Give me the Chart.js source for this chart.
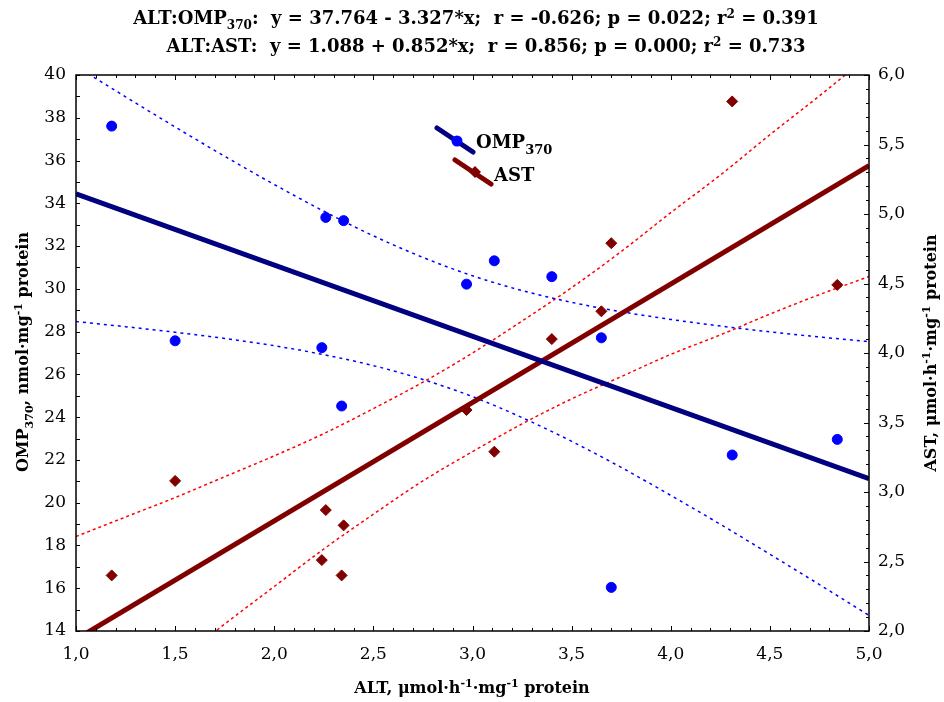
<!DOCTYPE html>
<html>
<head>
<meta charset="utf-8">
<script src="https://cdn.jsdelivr.net/npm/chart.js@4"></script>
<style>
  html, body { margin: 0; padding: 0; background: #fff; }
  #wrap { width: 944px; height: 702px; }
</style>
</head>
<body>
<div id="wrap"><canvas id="chart" width="944" height="702"></canvas></div>
<script>
// one entry per sample: ALT (x), OMP370 (left axis), AST (right axis)
const altValues = [1.18, 1.50, 2.24, 2.26, 2.34, 2.35, 2.97, 3.11, 3.40, 3.65, 3.70, 4.31, 4.84];
const ompValues = [37.61, 27.57, 27.25, 33.34, 24.52, 33.19, 30.22, 31.31, 30.57, 27.71, 16.04, 22.23, 22.96];
const astValues = [2.40, 3.08, 2.51, 2.87, 2.40, 2.76, 3.59, 3.29, 4.10, 4.30, 4.79, 5.81, 4.49];

// regression coefficients [intercept, slope]
const ompFit = [37.764, -3.327];
const astFit = [1.088, 0.852];

// 95% confidence bands
const bandX    = [1.0, 1.25, 1.5, 1.75, 2.0, 2.25, 2.5, 2.75, 3.0, 3.25, 3.5, 3.75, 4.0, 4.25, 4.5, 4.75, 5.0];
const ompUpper = [40.41, 38.98, 37.57, 36.20, 34.88, 33.63, 32.48, 31.47, 30.61, 29.92, 29.37, 28.93, 28.57, 28.26, 27.99, 27.75, 27.53];
const ompLower = [28.47, 28.23, 27.97, 27.68, 27.34, 26.92, 26.41, 25.76, 24.96, 23.98, 22.87, 21.65, 20.34, 18.99, 17.59, 16.17, 14.73];
const astUpper = [2.68, 2.82, 2.96, 3.11, 3.26, 3.42, 3.60, 3.79, 4.00, 4.23, 4.47, 4.73, 5.01, 5.28, 5.57, 5.85, 6.14];
const astLower = [1.20, 1.49, 1.77, 2.05, 2.32, 2.59, 2.84, 3.08, 3.29, 3.49, 3.67, 3.83, 3.99, 4.13, 4.28, 4.42, 4.55];

// tick labels
const xTicks   = [1.0, 1.5, 2.0, 2.5, 3.0, 3.5, 4.0, 4.5, 5.0];
const ompTicks = [14, 16, 18, 20, 22, 24, 26, 28, 30, 32, 34, 36, 38, 40];
const astTicks = [2.0, 2.5, 3.0, 3.5, 4.0, 4.5, 5.0, 5.5, 6.0];

const SERIF = '"DejaVu Serif", Georgia, serif';

function pairs(xs, ys) {
    return xs.map((x, i) => ({ x: x, y: ys[i] }));
}
function fitLine(c) {
    return [{ x: 1, y: c[0] + c[1] * 1 }, { x: 5, y: c[0] + c[1] * 5 }];
}
function comma(v) {
    return Number(v).toFixed(1).replace(".", ",");
}

// text with sub/superscript pieces, centred on x
function drawRich(ctx, parts, x, y, size) {
    const small = Math.round(size * 0.66);
    let w = 0;
    parts.forEach(p => {
        ctx.font = "bold " + (p[1] ? small : size) + "px " + SERIF;
        w += ctx.measureText(p[0]).width;
    });
    let cx = x - w / 2;
    parts.forEach(p => {
        ctx.font = "bold " + (p[1] ? small : size) + "px " + SERIF;
        let dy = 0;
        if (p[1] === "sub") dy = size * 0.3;
        if (p[1] === "sup") dy = -size * 0.36;
        ctx.fillText(p[0], cx, y + dy);
        cx += ctx.measureText(p[0]).width;
    });
}

function legendLine(ctx, x1, y1, x2, y2, color) {
    ctx.strokeStyle = color;
    ctx.lineWidth = 5;
    ctx.lineCap = "round";
    ctx.beginPath();
    ctx.moveTo(x1, y1);
    ctx.lineTo(x2, y2);
    ctx.stroke();
}

const decorations = {
    id: "decorations",
    afterDatasetsDraw(chart) {
        const ctx = chart.ctx;
        const a = chart.chartArea;
        const sx = chart.scales.x, sy = chart.scales.y, sy2 = chart.scales.y2;
        ctx.save();

        // frame
        ctx.strokeStyle = "#000";
        ctx.lineWidth = 1.5;
        ctx.strokeRect(a.left, a.top, a.right - a.left, a.bottom - a.top);

        // inward tick marks
        ctx.lineWidth = 1;
        ctx.beginPath();
        for (let i = 10; i <= 50; i++) {
            const px = Math.round(sx.getPixelForValue(i / 10)) + 0.5;
            const len = i % 5 === 0 ? 5 : 3;
            ctx.moveTo(px, a.bottom); ctx.lineTo(px, a.bottom - len);
            ctx.moveTo(px, a.top); ctx.lineTo(px, a.top + len);
        }
        for (let v = 14; v <= 40; v++) {
            const py = Math.round(sy.getPixelForValue(v)) + 0.5;
            ctx.moveTo(a.left, py); ctx.lineTo(a.left + 4, py);
        }
        for (let i = 20; i <= 60; i++) {
            const py = Math.round(sy2.getPixelForValue(i / 10)) + 0.5;
            const len = i % 5 === 0 ? 5 : 3;
            ctx.moveTo(a.right, py); ctx.lineTo(a.right - len, py);
        }
        ctx.stroke();

        // legend
        legendLine(ctx, 437, 128, 473, 152, "#000080");
        ctx.fillStyle = "#0000ff";
        ctx.beginPath();
        ctx.arc(457, 141, 5.5, 0, Math.PI * 2);
        ctx.fill();
        legendLine(ctx, 455, 160, 491, 184, "#800000");
        ctx.fillStyle = "#800000";
        ctx.beginPath();
        ctx.moveTo(475, 166); ctx.lineTo(481, 172); ctx.lineTo(475, 178); ctx.lineTo(469, 172);
        ctx.closePath();
        ctx.fill();

        ctx.fillStyle = "#000";
        ctx.textAlign = "left";
        ctx.textBaseline = "alphabetic";
        ctx.font = "bold 18px " + SERIF;
        const ompW = ctx.measureText("OMP").width;
        ctx.fillText("OMP", 476, 148);
        ctx.fillText("AST", 494, 181);
        ctx.font = "bold 13px " + SERIF;
        ctx.fillText("370", 476 + ompW, 154);

        // heading
        drawRich(ctx, [["ALT:OMP", ""], ["370", "sub"], [":  y = 37.764 - 3.327*x;  r = -0.626; p = 0.022; r", ""], ["2", "sup"], [" = 0.391", ""]], 476, 24, 18);
        drawRich(ctx, [["ALT:AST:  y = 1.088 + 0.852*x;  r = 0.856; p = 0.000; r", ""], ["2", "sup"], [" = 0.733", ""]], 486, 52, 18);

        // axis titles
        drawRich(ctx, [["ALT, \u03bcmol\u00b7h", ""], ["-1", "sup"], ["\u00b7mg", ""], ["-1", "sup"], [" protein", ""]], 472, 693, 16);

        ctx.save();
        ctx.translate(28, 352);
        ctx.rotate(-Math.PI / 2);
        drawRich(ctx, [["OMP", ""], ["370", "sub"], [", nmol\u00b7mg", ""], ["-1", "sup"], [" protein", ""]], 0, 0, 16);
        ctx.restore();

        ctx.save();
        ctx.translate(936, 353);
        ctx.rotate(-Math.PI / 2);
        drawRich(ctx, [["AST, \u03bcmol\u00b7h", ""], ["-1", "sup"], ["\u00b7mg", ""], ["-1", "sup"], [" protein", ""]], 0, 0, 16);
        ctx.restore();

        ctx.restore();
    }
};

function bandSet(xs, ys, color, axis, dash) {
    return {
        data: pairs(xs, ys),
        yAxisID: axis,
        showLine: true,
        borderColor: color,
        borderWidth: 1.5,
        borderDash: dash,
        pointRadius: 0,
        cubicInterpolationMode: "monotone",
        clip: 0
    };
}

const ctx = document.getElementById("chart").getContext("2d");
new Chart(ctx, {
    type: "scatter",
    data: {
        datasets: [
            {
                label: "OMP370",
                data: pairs(altValues, ompValues),
                yAxisID: "y",
                pointStyle: "circle",
                pointRadius: 5,
                borderWidth: 1,
                backgroundColor: "#0000ff",
                borderColor: "#0000ff"
            },
            {
                label: "AST",
                data: pairs(altValues, astValues),
                yAxisID: "y2",
                pointStyle: "rectRot",
                pointRadius: 5.5,
                borderWidth: 1,
                backgroundColor: "#800000",
                borderColor: "#800000"
            },
            {
                data: fitLine(ompFit), yAxisID: "y", showLine: true,
                borderColor: "#000080", borderWidth: 5, pointRadius: 0, clip: 0
            },
            {
                data: fitLine(astFit), yAxisID: "y2", showLine: true,
                borderColor: "#800000", borderWidth: 5, pointRadius: 0, clip: 0
            },
            bandSet(bandX, ompUpper, "#0000ff", "y", [3, 4]),
            bandSet(bandX, ompLower, "#0000ff", "y", [3, 4]),
            bandSet(bandX, astUpper, "#ff0000", "y2", [3, 3]),
            bandSet(bandX, astLower, "#ff0000", "y2", [3, 3])
        ]
    },
    options: {
        responsive: false,
        animation: false,
        events: [],
        layout: { padding: { top: 75, left: 0, right: 0, bottom: 0 } },
        plugins: {
            legend: { display: false },
            title: { display: false },
            tooltip: { enabled: false }
        },
        scales: {
            x: {
                type: "linear",
                min: 1, max: 5,
                afterBuildTicks: s => { s.ticks = xTicks.map(v => ({ value: v })); },
                afterFit: s => { s.height = 71; },
                grid: { display: false, drawTicks: false },
                border: { display: false },
                ticks: {
                    padding: 13,
                    color: "#000",
                    font: { family: SERIF, size: 17 },
                    callback: v => comma(v)
                }
            },
            y: {
                type: "linear",
                position: "left",
                min: 14, max: 40,
                afterBuildTicks: s => { s.ticks = ompTicks.map(v => ({ value: v })); },
                afterFit: s => { s.width = 76; },
                grid: { display: false, drawTicks: false },
                border: { display: false },
                ticks: {
                    padding: 10,
                    color: "#000",
                    font: { family: SERIF, size: 17 },
                    callback: v => String(v)
                }
            },
            y2: {
                type: "linear",
                position: "right",
                min: 2, max: 6,
                afterBuildTicks: s => { s.ticks = astTicks.map(v => ({ value: v })); },
                afterFit: s => { s.width = 75; },
                grid: { display: false, drawTicks: false },
                border: { display: false },
                ticks: {
                    padding: 9,
                    color: "#000",
                    font: { family: SERIF, size: 17 },
                    callback: v => comma(v)
                }
            }
        }
    },
    plugins: [decorations]
});
</script>
</body>
</html>
